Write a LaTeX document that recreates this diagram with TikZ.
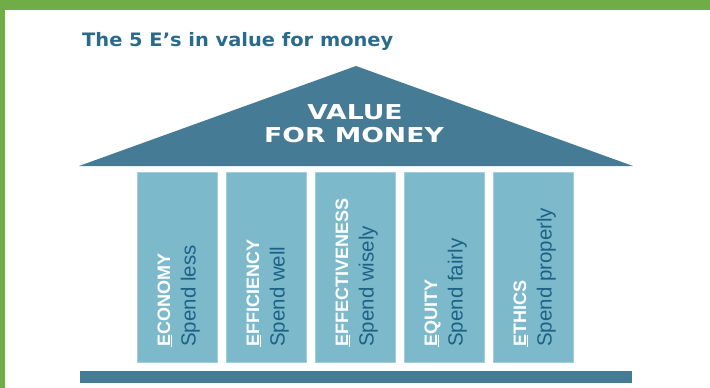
\documentclass[tikz,border=0pt]{standalone}
\usepackage{fontspec}
\setmainfont{Liberation Sans}
\newfontfamily\widefont{DejaVu Sans}
\usetikzlibrary{positioning}
\definecolor{framegreen}{HTML}{70AD47}
\definecolor{roofblue}{HTML}{467B96}
\definecolor{pillarblue}{HTML}{7CB9CB}
\definecolor{spendblue}{HTML}{1D6285}
\definecolor{titleblue}{HTML}{2A6B8C}
\tikzset{
  pillar/.style={fill=pillarblue, draw=pillarblue!70!white, line width=0.6pt, minimum width=80pt, minimum height=190pt, inner sep=0},
  ename/.style={rotate=90, anchor=base west, inner sep=0, text=white, font=\fontsize{18}{20}\selectfont\bfseries},
  spend/.style={rotate=90, anchor=base west, inner sep=0, text=spendblue, font=\fontsize{20.5}{22}\selectfont},
  rooftext/.style={anchor=base, inner sep=0, text=white, font=\widefont\fontsize{20.5}{22}\selectfont\bfseries}
}
\begin{document}
\begin{tikzpicture}[x=1pt, y=-1pt]
            \useasboundingbox (0,0) rectangle (710,388);
            % green frame
            \fill[framegreen] (0,0) rectangle (710,10);
            \fill[framegreen] (0,0) rectangle (5,388);
            % title
            \node[anchor=base west, inner sep=0, text=titleblue, font=\widefont\fontsize{18.5}{20}\selectfont\bfseries] (title) at (82,46.5) {\scalebox{1.05}[1]{The 5 E’s in value for money}};
            % roof
            \fill[roofblue] (79,166) -- (356,66) -- (633,166) -- cycle;
            \node[rooftext] (value) at (355,119) {\scalebox{1.3}[1]{VALUE}};
            \node[rooftext] (money) at (354,142) {\scalebox{1.3}[1]{FOR MONEY}};
            % pillars
            \node[pillar] (economy) at (177,267) {};
            \node[pillar] (efficiency) at (266,267) {};
            \node[pillar] (effectiveness) at (355,267) {};
            \node[pillar] (equity) at (444,267) {};
            \node[pillar] (ethics) at (533,267) {};
            % pillar texts
            \node[ename] (econame) at (170,347) {\underline{E}CONOMY};
            \node[spend] (ecospend) at (195.5,347) {Spend less};
            \node[ename] (effname) at (259,347) {\underline{E}FFICIENCY};
            \node[spend] (effspend) at (284.5,347) {Spend well};
            \node[ename] (efvname) at (348,347) {\underline{E}FFECTIVENESS};
            \node[spend] (efvspend) at (373.5,347) {Spend wisely};
            \node[ename] (equname) at (437,347) {\underline{E}QUITY};
            \node[spend] (equspend) at (462.5,347) {Spend fairly};
            \node[ename] (ethname) at (526,347) {\underline{E}THICS};
            \node[spend] (ethspend) at (551.5,347) {Spend properly};
            % base
            \fill[roofblue] (80,371) rectangle (632,383);
\end{tikzpicture}
\end{document}
